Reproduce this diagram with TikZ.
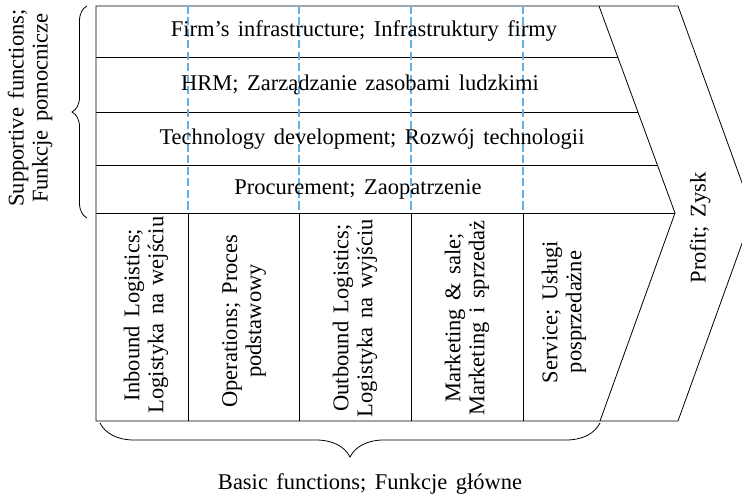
\documentclass[tikz,border=0pt]{standalone}
\usepackage{fontspec}
\setmainfont[WordSpace=1.5]{Liberation Serif}
\usetikzlibrary{decorations.pathreplacing}
\definecolor{dashblue}{RGB}{100,175,230}
\tikzset{
  chain text/.style={font=\fontsize{22.5}{24}\selectfont, inner sep=0pt},
  column text/.style={chain text, rotate=90, align=center},
  frame line/.style={black, line width=0.8pt},
  blue dash/.style={dashblue, line width=1.6pt, dash pattern=on 8pt off 3.5pt},
  curly/.style={frame line, decorate, decoration={brace, amplitude=#1}},
}
\begin{document}
\begin{tikzpicture}[x=1pt,y=-1pt]
    \useasboundingbox (0,0) rectangle (742,500);
    \clip (0,0) rectangle (742,500);
    % Outer chevron
    \draw[frame line] (96,6) -- (678,6) -- (753,213) -- (678,421) -- (96,421) -- cycle;
    % Inner chevron
    \draw[frame line] (599,6) -- (675,213) -- (600,421);
    % Rows of supportive functions
    \foreach \y/\xr in {57/618,112/638,165/657,213/675}
        \draw[frame line] (96,\y) -- (\xr,\y);
    % Columns of basic functions
    \foreach \x in {188,299,411,523} {
        \draw[blue dash] (\x,6) -- (\x,213);
        \draw[frame line] (\x,213) -- (\x,421);
    }
    % Supportive functions
    \node[chain text] (infra) at (364,31) {Firm’s infrastructure; Infrastruktury firmy};
    \node[chain text] (hrm) at (360,85) {HRM; Zarządzanie zasobami ludzkimi};
    \node[chain text] (tech) at (372,139) {Technology development; Rozwój technologii};
    \node[chain text] (proc) at (358,189) {Procurement; Zaopatrzenie};
    % Basic functions
    \node[column text] (inbound) at (146,315) {Inbound Logistics;\\Logistyka na wejściu};
    \node[column text] (operations) at (244,321) {Operations; Proces\\podstawowy};
    \node[column text] (outbound) at (355,318) {Outbound Logistics;\\Logistyka na wyjściu};
    \node[column text] (marketing) at (467,318) {Marketing \& sale;\\Marketing i sprzedaż};
    \node[column text] (service) at (564,312) {Service; Usługi\\posprzedażne};
    % Profit
    \node[column text] (profit) at (700,228) {Profit; Zysk};
    % Braces
    \draw[curly=15pt] (87,218) -- (87,6);
    \node[column text] (supportive) at (30,108) {Supportive functions;\\Funkcje pomocnicze};
    \draw[curly=34pt] (600,423) -- (100,423);
    \node[chain text] (basic) at (370,484) {Basic functions; Funkcje główne};
\end{tikzpicture}
\end{document}
